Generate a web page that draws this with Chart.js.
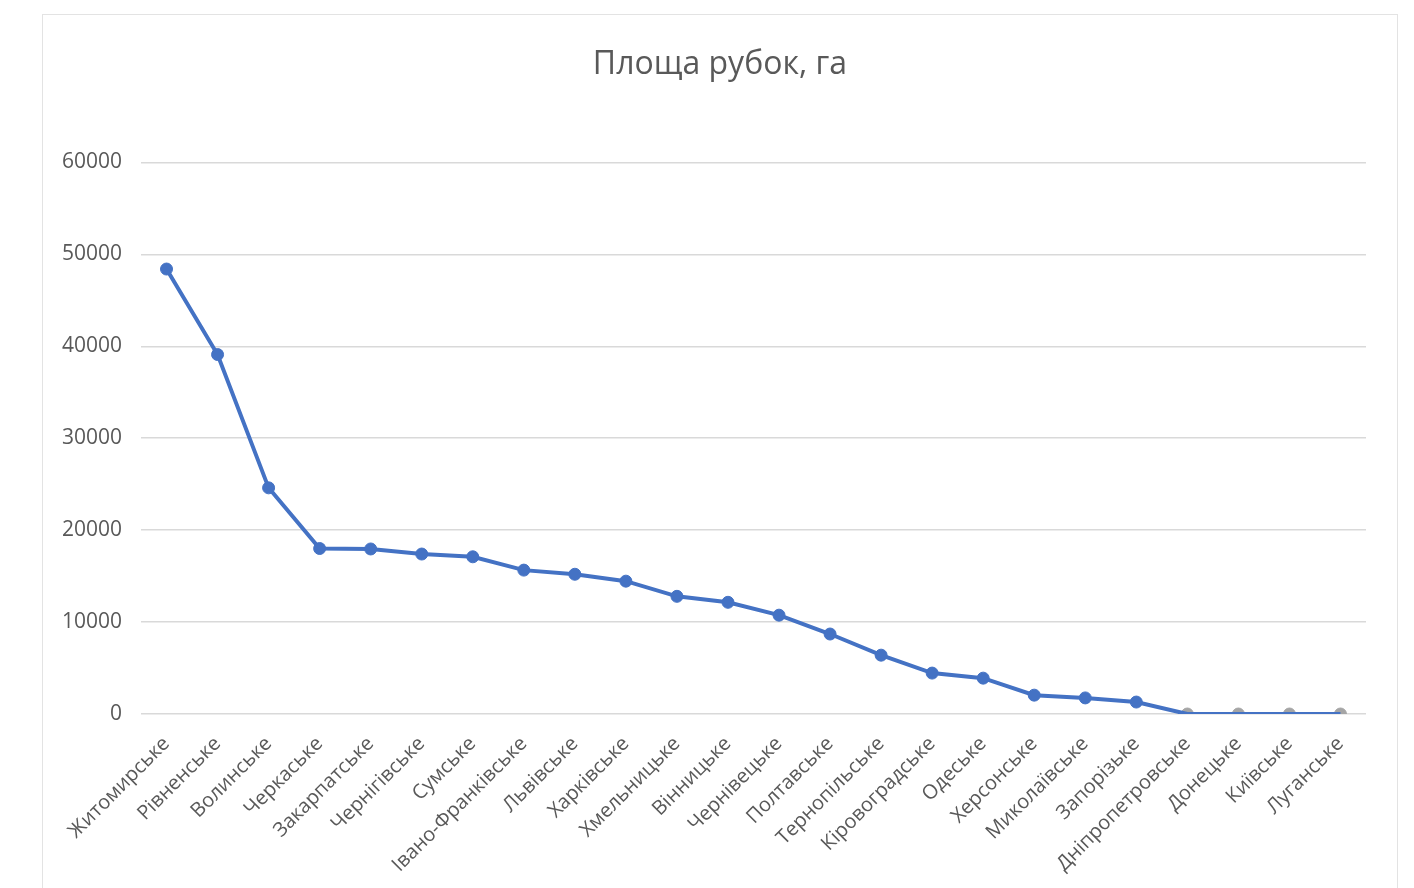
<!DOCTYPE html>
<html>
<head>
<meta charset="utf-8">
<script src="https://cdn.jsdelivr.net/npm/chart.js@4.4.1/dist/chart.umd.min.js"></script>
<style>
  html, body { margin: 0; padding: 0; background: #ffffff; width: 1414px; height: 888px; overflow: hidden; }
  #frame { position: absolute; left: 42px; top: 14px; width: 1354px; height: 880px; border: 1px solid #e3e3e3; background: #fff; }
  #wrap { position: absolute; left: 0; top: 0; width: 1354px; height: 873px; }
</style>
</head>
<body>
<div id="frame"><div id="wrap"><canvas id="c" width="1354" height="873"></canvas></div></div>
<script>
const chartTitle = 'Площа рубок, га';
const regions = ['Житомирське','Рівненське','Волинське','Черкаське','Закарпатське','Чернігівське','Сумське','Івано-Франківське','Львівське','Харківське','Хмельницьке','Вінницьке','Чернівецьке','Полтавське','Тернопільське','Кіровоградське','Одеське','Херсонське','Миколаївське','Запорізьке','Дніпропетровське','Донецьке','Київське','Луганське'];
const area = [48400, 39100, 24600, 18000, 17950, 17400, 17100, 15650, 15200, 14450, 12800, 12150, 10750, 8700, 6400, 4450, 3900, 2050, 1750, 1300, 0, 0, 0, 0];
const yTicks = [0, 10000, 20000, 30000, 40000, 50000, 60000];

const BLUE = '#4472C4';
const GRAY = '#A5A5A5';

new Chart(document.getElementById('c'), {
  type: 'line',
  data: {
    labels: regions,
    datasets: [
      {
        label: chartTitle,
        data: area,
        borderColor: BLUE,
        backgroundColor: BLUE,
        borderWidth: 4,
        tension: 0,
        pointRadius: ctx => (area[ctx.dataIndex] === 0 ? 0 : 6),
        pointBackgroundColor: BLUE,
        pointBorderColor: BLUE,
        pointBorderWidth: 1,
        order: 1
      },
      {
        label: 'markers',
        data: area,
        showLine: false,
        pointRadius: ctx => (area[ctx.dataIndex] === 0 ? 6 : 0),
        pointBackgroundColor: GRAY,
        pointBorderColor: GRAY,
        order: 2
      }
    ]
  },
  options: {
    responsive: false,
    animation: false,
    devicePixelRatio: 1,
    layout: { padding: { left: 0, right: 0, top: 0, bottom: 0 } },
    plugins: {
      legend: { display: false },
      tooltip: { enabled: false },
      title: {
        display: true,
        text: chartTitle,
        color: '#595959',
        font: { family: '"Open Sans", sans-serif', size: 32, weight: 'normal', lineHeight: 1.2 },
        padding: { top: 31, bottom: 78 }
      }
    },
    scales: {
      x: {
        offset: true,
        grid: { display: false },
        border: { display: false },
        ticks: {
          minRotation: 45,
          maxRotation: 45,
          autoSkip: false,
          padding: 10,
          color: '#595959',
          font: { family: '"Open Sans", sans-serif', size: 20 }
        },
        afterFit: s => { s.height = 174; }
      },
      y: {
        min: 0,
        max: 60000,
        afterBuildTicks: s => { s.ticks = yTicks.map(v => ({ value: v })); },
        grid: { color: '#d9d9d9', lineWidth: 1.5, drawTicks: false },
        border: { display: false },
        ticks: {
          padding: 19,
          color: '#595959',
          font: { family: '"Open Sans", sans-serif', size: 21 },
          callback: v => String(v)
        },
        afterFit: s => { s.width = 98; }
      },
      yRight: {
        position: 'right',
        display: true,
        grid: { display: false },
        border: { display: false },
        ticks: { display: false },
        afterFit: s => { s.width = 31; }
      }
    }
  }
});
</script>
</body>
</html>
